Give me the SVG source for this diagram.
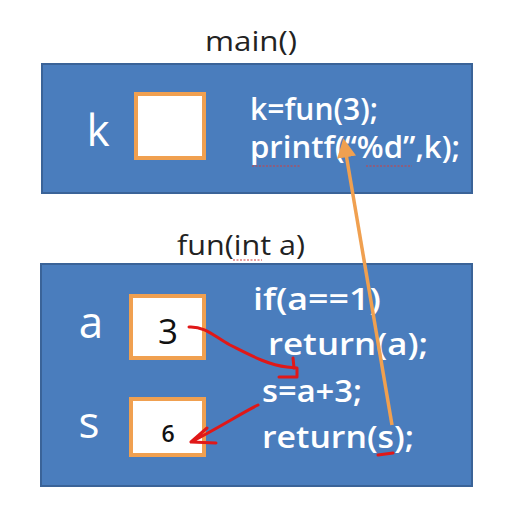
<svg xmlns="http://www.w3.org/2000/svg" width="517" height="517" viewBox="0 0 517 517">
<defs>
<style>
.panel{fill:#4a7dbd;stroke:#3a6398;stroke-width:2}
.box{fill:#ffffff;stroke:#f0a050;stroke-width:4}
.title{font-family:"Open Sans","Liberation Sans",sans-serif;font-size:27px;fill:#222}
.lbl{font-family:"Open Sans","Liberation Sans",sans-serif;font-size:44px;fill:#ffffff}
.code{font-family:"Open Sans","Liberation Sans",sans-serif;font-size:30px;font-weight:600;fill:#ffffff}
.val{font-family:"Open Sans","Liberation Sans",sans-serif;fill:#111}
.red{fill:none;stroke:#e01818;stroke-width:3;stroke-linecap:round;stroke-linejoin:round}
.squig{fill:none;stroke:#d04040;stroke-width:1.2;stroke-dasharray:2 1.5}
</style>
<marker id="oarr" viewBox="0 0 10 10" refX="8" refY="5" markerWidth="5.5" markerHeight="5.5" orient="auto"><path d="M0,0 L10,5 L0,10 Z" fill="#f0a050"/></marker>
</defs>
<rect width="517" height="517" fill="#ffffff"/>
<g id="main">
<text class="title" x="205" y="51" textLength="92" lengthAdjust="spacingAndGlyphs">main()</text>
<rect class="panel" x="42" y="64" width="430" height="129"/>
<text class="lbl" x="98" y="146" text-anchor="middle">k</text>
<rect class="box" x="136" y="94" width="68" height="64"/>
<text class="code" x="250" y="120" textLength="128" lengthAdjust="spacingAndGlyphs">k=fun(3);</text>
<text class="code" x="250" y="158" textLength="210" lengthAdjust="spacingAndGlyphs">printf(“%d”,k);</text>
<path class="squig" d="M252,166 L300,166 M366,166 L412,166"/>
</g>
<g id="fun">
<text class="title" x="177" y="255" textLength="128" lengthAdjust="spacingAndGlyphs">fun(int a)</text>
<path class="squig" d="M233,260 L262,260"/>
<rect class="panel" x="41" y="264" width="431" height="222"/>
<text class="lbl" x="91" y="338" text-anchor="middle">a</text>
<rect class="box" x="131" y="296" width="73" height="62"/>
<text class="val" x="168" y="344" text-anchor="middle" font-size="35">3</text>
<text class="lbl" x="89" y="438" text-anchor="middle">s</text>
<rect class="box" x="131" y="399" width="73" height="56"/>
<text class="val" x="168" y="442" text-anchor="middle" font-size="23" font-weight="600">6</text>
<text class="code" x="253" y="310" textLength="128" lengthAdjust="spacingAndGlyphs">if(a==1)</text>
<text class="code" x="268" y="355" textLength="160" lengthAdjust="spacingAndGlyphs">return(a);</text>
<text class="code" x="262" y="402" textLength="100" lengthAdjust="spacingAndGlyphs">s=a+3;</text>
<text class="code" x="262" y="448" textLength="152" lengthAdjust="spacingAndGlyphs">return(s);</text>
</g>
<g id="connectors">
<line x1="392" y1="425" x2="344" y2="142" stroke="#f0a050" stroke-width="3.5" marker-end="url(#oarr)"/>
<path class="red" d="M189,327 C205,326 215,337 230,345 C250,355 268,365 287,367 L297,368 L297,377 L279,377"/>
<path class="red" d="M293,358 L294,368"/>
<path class="red" d="M258,405 C240,414 222,426 191,442 M191,442 L207,428 M191,442 L216,443"/>
<path class="red" d="M378,455 L393,453"/>
</g>
</svg>
